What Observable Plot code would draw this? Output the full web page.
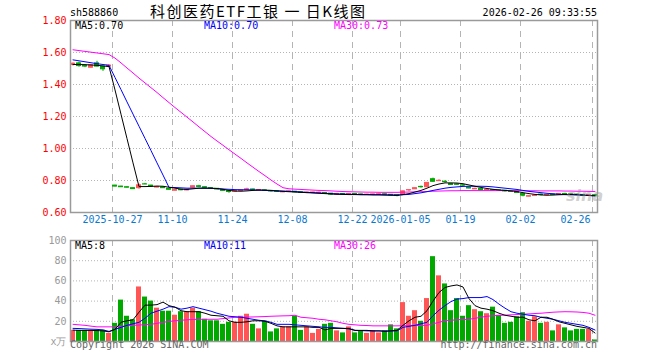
<!DOCTYPE html>
<html><head><meta charset="utf-8">
<script src="https://cdn.jsdelivr.net/npm/d3@7"></script>
<script src="https://cdn.jsdelivr.net/npm/@observablehq/plot@0.6"></script>
<style>
body{margin:0;background:#fff;}
#wrap{position:relative;width:660px;height:360px;overflow:hidden;font-family:"DejaVu Sans Mono",monospace;}
#wrap svg{position:absolute;left:0;}
.t{position:absolute;white-space:pre;font-size:10px;line-height:10px;font-family:"DejaVu Sans Mono",monospace;}
</style></head><body><div id="wrap"></div>
<script>
const code = "sh588860";
const title = "科创医药ETF工银 一 日K线图";
const stamp = "2026-02-26 09:33:55";
const copyright = "Copyright 2026 SINA.COM";
const url = "http://finance.sina.com.cn";

const dates = ["2025-10-16","2025-10-17","2025-10-20","2025-10-21","2025-10-22","2025-10-23","2025-10-24",
"2025-10-27","2025-10-28","2025-10-29","2025-10-30","2025-10-31",
"2025-11-03","2025-11-04","2025-11-05","2025-11-06","2025-11-07",
"2025-11-10","2025-11-11","2025-11-12","2025-11-13","2025-11-14",
"2025-11-17","2025-11-18","2025-11-19","2025-11-20","2025-11-21",
"2025-11-24","2025-11-25","2025-11-26","2025-11-27","2025-11-28",
"2025-12-01","2025-12-02","2025-12-03","2025-12-04","2025-12-05",
"2025-12-08","2025-12-09","2025-12-10","2025-12-11","2025-12-12",
"2025-12-15","2025-12-16","2025-12-17","2025-12-18","2025-12-19",
"2025-12-22","2025-12-23","2025-12-24","2025-12-25","2025-12-26",
"2025-12-29","2025-12-30","2025-12-31",
"2026-01-05","2026-01-06","2026-01-07","2026-01-08","2026-01-09",
"2026-01-12","2026-01-13","2026-01-14","2026-01-15","2026-01-16",
"2026-01-19","2026-01-20","2026-01-21","2026-01-22","2026-01-23",
"2026-01-26","2026-01-27","2026-01-28","2026-01-29","2026-01-30",
"2026-02-02","2026-02-03","2026-02-04","2026-02-05","2026-02-06",
"2026-02-09","2026-02-10","2026-02-11","2026-02-12","2026-02-13",
"2026-02-24","2026-02-25","2026-02-26"];

const open = [1.522,1.532,1.518,1.505,1.532,1.512,1.512,
.768,.762,.758,.752,.752, .776,.768,.756,.756,.748, .736,.742,.738,.755,.764,
.758,.752,.748,.740,.733, .730,.734,.740,.744,.738, .738,.735,.732,.726,.728,
.730,.726,.722,.722,.722, .722,.718,.712,.716,.712, .716,.713,.709,.710,.711,
.714,.711,.708, .712,.738,.745,.760,.758, .808,.796,.792,.778,.776,
.770,.756,.745,.748,.738, .740,.738,.736,.732,.728, .716,.699,.703,.712,.708,
.712,.712,.716,.714,.712, .710,.705,.708];
const close = [1.530,1.515,1.512,1.520,1.512,1.495,1.518,
.762,.758,.755,.746,.770, .775,.762,.760,.752,.742, .740,.739,.742,.764,.760,
.754,.750,.744,.735,.728, .734,.738,.745,.741,.741, .735,.732,.729,.729,.731,
.726,.723,.724,.725,.724, .718,.712,.716,.714,.716, .712,.710,.712,.713,.714,
.711,.707,.703, .732,.740,.752,.758,.785, .792,.798,.790,.772,.773,
.768,.750,.748,.740,.742, .736,.735,.732,.729,.722, .705,.702,.706,.709,.711,
.710,.716,.714,.711,.709, .707,.708,.705];
const high = [1.535,1.540,1.520,1.525,1.545,1.515,1.525,
.770,.764,.760,.754,.778, .782,.770,.762,.757,.750, .742,.744,.744,.766,.770,
.760,.753,.750,.742,.735, .736,.740,.752,.746,.743, .740,.737,.734,.731,.733,
.732,.728,.727,.727,.728, .724,.719,.720,.718,.719, .718,.715,.714,.715,.716,
.715,.712,.709, .735,.742,.755,.765,.788, .815,.805,.798,.780,.778,
.774,.758,.752,.750,.744, .742,.740,.738,.734,.730, .718,.704,.708,.716,.713,
.714,.718,.720,.716,.714, .712,.710,.709];
const low = [1.515,1.508,1.505,1.502,1.510,1.482,1.508,
.760,.756,.753,.744,.745, .774,.760,.754,.750,.740, .734,.736,.736,.754,.758,
.752,.748,.742,.733,.720, .728,.732,.738,.738,.735, .733,.728,.726,.724,.726,
.724,.721,.718,.720,.720, .716,.708,.710,.712,.710, .709,.708,.707,.708,.709,
.709,.705,.698, .710,.730,.744,.752,.756, .790,.795,.784,.770,.770,
.762,.748,.744,.738,.736, .734,.733,.728,.726,.720, .698,.697,.702,.704,.706,
.708,.710,.710,.709,.707, .705,.704,.703];

const volume = [11,11,11,11,11,11,8,
18,41,25,21.5,54, 44,40,33,30,30, 26,29.5,29.5,33,29.5,
22,20.5,20.5,17,19, 19,25,27,17,12.5, 20,9.5,12.5,14.5,14.5,
25,11,14.5,8,12, 17,18,10.5,8.5,14.5, 8.5,10.5,8,10.5,8.5,
10.5,16.5,12.5, 38.5,25,30.5,20,42.5, 84,65,57,30.5,42.5,
25,35.5,31.5,29.5,27.5, 34,26,18,19,24.5, 28.5,20,24.5,18,19,
10.5,16.5,13.5,10.5,12, 12,12,1.5];

const ma5 = [1.525,1.525,1.524,1.522,1.520,1.516,1.512,
1.366,1.214,1.062,0.910,0.762, 0.762,0.763,0.765,0.764,0.758, 0.752,0.746,0.744,0.748,0.752,
0.752,0.752,0.750,0.745,0.738, 0.734,0.733,0.735,0.738,0.740, 0.740,0.738,0.735,0.732,0.730,
0.728,0.726,0.724,0.722,0.720, 0.718,0.716,0.714,0.713,0.712, 0.712,0.711,0.711,0.710,0.710,
0.709,0.708,0.707, 0.712,0.718,0.728,0.738,0.752, 0.768,0.778,0.785,0.785,0.784,
0.780,0.772,0.764,0.757,0.750, 0.745,0.741,0.738,0.735,0.731, 0.724,0.718,0.713,0.710,0.708,
0.709,0.711,0.712,0.712,0.711, 0.709,0.707,0.704];
const ma10 = [1.554,1.548,1.542,1.536,1.530,1.525,1.520,
1.444,1.368,1.291,1.215,1.139, 1.063,0.987,0.910,0.834,0.757, 0.756,0.754,0.752,0.752,0.752,
0.752,0.751,0.749,0.747,0.745, 0.743,0.742,0.742,0.741,0.740, 0.738,0.736,0.735,0.734,0.733,
0.731,0.728,0.726,0.724,0.722, 0.720,0.718,0.716,0.715,0.714, 0.713,0.712,0.712,0.711,0.711,
0.710,0.710,0.709, 0.711,0.713,0.718,0.723,0.730, 0.738,0.745,0.752,0.757,0.760,
0.763,0.764,0.764,0.764,0.763, 0.760,0.756,0.752,0.748,0.744, 0.738,0.732,0.728,0.724,0.720,
0.717,0.714,0.712,0.711,0.710, 0.708,0.706,0.704];
const ma30 = [1.617,1.612,1.607,1.602,1.597,1.592,1.587,
1.565,1.535,1.503,1.472,1.440, 1.410,1.380,1.350,1.318,1.287, 1.256,1.226,1.196,1.166,1.135,
1.105,1.075,1.047,1.020,0.992, 0.965,0.938,0.910,0.883,0.856, 0.830,0.803,0.778,0.755,0.748,
0.746,0.744,0.742,0.740,0.738, 0.737,0.735,0.733,0.731,0.730, 0.729,0.728,0.727,0.727,0.726,
0.726,0.726,0.726, 0.727,0.728,0.729,0.730,0.731, 0.733,0.734,0.735,0.736,0.736,
0.737,0.737,0.737,0.737,0.737, 0.737,0.737,0.737,0.737,0.737, 0.736,0.736,0.736,0.735,0.735,
0.735,0.735,0.734,0.734,0.733, 0.733,0.732,0.731];

const vma5 = [11.3,11,11,11,10.8,10.5,9.6,
12,19,20.5,21.5,29, 36,36,36.5,39,35.5, 34,30.5,29.5,29.5,29.5,
28,26,25.5,25,20.5, 19,19,19.5,20.5,20.5, 20,18,15.5,14.5,14.5,
14.5,14.5,14.5,14,14, 11.5,13,13,13,12.5, 11,11,11,10.5,10.5,
10,10.5,11, 16,20.5,24,25,30.5, 40,48.5,53.5,55,56,
54,42.5,35.5,33,32, 30.5,28,26,25,24, 24,21.5,20.5,24,24,
22,19.5,18,16.5,15, 14,13,8.4];
const vma10 = [13,12.8,12.5,12.2,12,11.5,10,
12,14,16,17.5,19, 23,28,30,32,34.5, 34,32,33,34.5,33,
31.5,30,28,26.5,25, 24.5,24,23,22,21, 20.5,19,17,17,17,
16.5,16,15.5,15,14.5, 14,14,13.5,13,13, 11,10.8,10.5,10.5,10.5,
10.5,10.5,10.5, 14,15,16,17.5,19, 25.5,31,35.5,39.5,42,
42.5,43.5,43.5,43.5,44.5, 41.5,37,33,29.5,28, 27,26,25.5,24,23,
22,20.5,19,18,17, 16,14,11.4];
const vma30 = [17,16.5,16,15.2,14.5,14.5,14.5,
14.5,15,15.5,16,16.3, 16.6,17,18,19,19.8, 20.5,21,21.5,21.8,22,
22,22,22,22.7,23.3, 24,24.1,24.2,24.3,24.5, 24.7,25,25.2,25.4,25.5,
26,24,23.5,23,22, 21.5,20.5,19.5,18,17, 16.5,16,15.8,15.5,15.5,
15.5,15.5,15.5, 15.6,15.7,15.8,15.9,16, 17.5,19,20.5,21,21.5,
21.8,22,23,24,25, 25.5,25.8,26.1,26.4,26.7, 27,27.3,27.7,28,28.5,
29,29.3,29.5,29.4,29.2, 28.8,28,26];

const tickDates = ["2025-10-27","2025-11-10","2025-11-24","2025-12-08","2025-12-22","2026-01-05","2026-01-19","2026-02-02","2026-02-26"];
const tickLabels = ["2025-10-27","11-10","11-24","12-08","12-22","2026-01-05","01-19","02-02","02-26"];
const priceTicks = [0.6,0.8,1.0,1.2,1.4,1.6,1.8];
const volTicks = [0,20,40,60,80,100];
const volTickLabels = ["x万","20","40","60","80","100"];

const RED = "#ff5555", GREEN = "#00a800", GRID = "#b4b4b4", FRAMEC = "#9a9a9a";
const MONO = "DejaVu Sans Mono, monospace";
const n = dates.length;
const slot = 5/6; // bar occupies 5 of 6 px per day

const rows = dates.map((d, i) => ({
  i, date: d, o: open[i], c: close[i], h: high[i], l: low[i], v: volume[i],
  up: close[i] >= open[i],
  lo: Math.min(open[i], close[i]), hi: Math.max(open[i], close[i]),
  m5: ma5[i], m10: ma10[i], m30: ma30[i], v5: vma5[i], v10: vma10[i], v30: vma30[i]
}));
const ticks = tickDates.map((d, k) => ({i: dates.indexOf(d), label: tickLabels[k]}));
const xDomain = [0, n - 1/6];

const price = Plot.plot({
  width: 660, height: 230,
  marginLeft: 70, marginRight: 63, marginTop: 20, marginBottom: 18,
  x: {domain: xDomain, axis: null},
  y: {domain: [0.6, 1.8], axis: null},
  style: {fontFamily: MONO, background: "transparent"},
  marks: [
    Plot.ruleY(priceTicks.slice(1, -1), {stroke: GRID, strokeDasharray: "1,2"}),
    Plot.ruleX(ticks, {x: "i", stroke: GRID, strokeDasharray: "6,5"}),
    Plot.ruleX(rows, {x: "i", dx: 2.5, y1: "l", y2: "h", stroke: d => d.up ? RED : GREEN}),
    Plot.rect(rows, {x1: "i", x2: d => d.i + slot, y1: "lo", y2: "hi", insetLeft: 0.5, insetRight: 0.5,
      fill: d => d.up ? RED : GREEN, stroke: d => d.up ? RED : GREEN, strokeWidth: 1}),
    Plot.line(rows, {x: "i", y: "m30", dx: 2.5, stroke: "#ff00ff", strokeWidth: 1}),
    Plot.line(rows, {x: "i", y: "m10", dx: 2.5, stroke: "#0000ff", strokeWidth: 1}),
    Plot.line(rows, {x: "i", y: "m5", dx: 2.5, stroke: "#000000", strokeWidth: 1}),
    Plot.frame({stroke: FRAMEC, strokeWidth: 1.5}),
    Plot.text(priceTicks, {y: d => d, text: d => d.toFixed(2), frameAnchor: "left", textAnchor: "end", dx: -4,
      fill: "#ff0000", fontSize: 10, fontFamily: MONO}),
    Plot.text(ticks.slice(0, -1), {x: "i", text: "label", frameAnchor: "bottom", dy: 10,
      fill: "#0a78d2", fontSize: 10, fontFamily: MONO}),
    Plot.text(ticks.slice(-1), {x: "i", text: "label", frameAnchor: "bottom", dy: 10, textAnchor: "end", dx: -2,
      fill: "#0a78d2", fontSize: 10, fontFamily: MONO})
  ]
});
price.style.top = "0px";

const vol = Plot.plot({
  width: 660, height: 130,
  marginLeft: 70, marginRight: 63, marginTop: 10, marginBottom: 19,
  x: {domain: xDomain, axis: null},
  y: {domain: [0, 100], axis: null},
  style: {fontFamily: MONO, background: "transparent"},
  marks: [
    Plot.ruleY(volTicks.slice(1, -1), {stroke: GRID, strokeDasharray: "1,2"}),
    Plot.ruleX(ticks, {x: "i", stroke: GRID, strokeDasharray: "6,5"}),
    Plot.rectY(rows, {x1: "i", x2: d => d.i + slot, y: "v", fill: d => d.up ? RED : GREEN}),
    Plot.line(rows, {x: "i", y: "v30", dx: 2.5, stroke: "#ff00ff", strokeWidth: 1}),
    Plot.line(rows, {x: "i", y: "v10", dx: 2.5, stroke: "#0000ff", strokeWidth: 1}),
    Plot.line(rows, {x: "i", y: "v5", dx: 2.5, stroke: "#000000", strokeWidth: 1}),
    Plot.frame({stroke: FRAMEC, strokeWidth: 1.5}),
    Plot.text(volTicks, {y: d => d, text: (d, k) => volTickLabels[k], frameAnchor: "left", textAnchor: "end", dx: -4,
      fill: "#999999", fontSize: 10, fontFamily: MONO})
  ]
});
vol.style.top = "230px";

const wrap = document.getElementById("wrap");
wrap.appendChild(price);
wrap.appendChild(vol);

function label(text, css) {
  const el = document.createElement("div");
  el.className = "t";
  el.textContent = text;
  Object.assign(el.style, css);
  wrap.appendChild(el);
  return el;
}
const last = n - 1;
label(code, {left: "70px", top: "8px", color: "#000"});
label(title, {left: "150px", top: "3px", fontSize: "15px", lineHeight: "15px", letterSpacing: "1.5px",
  fontFamily: "'Noto Sans CJK SC', sans-serif", color: "#000"});
label(stamp, {right: "63px", top: "8px", color: "#000"});
label("MA5:" + ma5[last].toFixed(2), {left: "75px", top: "21px", color: "#000"});
label("MA10:" + ma10[last].toFixed(2), {left: "204px", top: "21px", color: "#0000ff"});
label("MA30:" + ma30[last].toFixed(2), {left: "334px", top: "21px", color: "#ff00ff"});
label("MA5:" + Math.round(vma5[last]), {left: "75px", top: "241px", color: "#000"});
label("MA10:" + Math.round(vma10[last]), {left: "204px", top: "241px", color: "#0000ff"});
label("MA30:" + Math.round(vma30[last]), {left: "334px", top: "241px", color: "#ff00ff"});
label(copyright, {left: "70px", top: "340px", color: "#666"});
label(url, {right: "63px", top: "340px", color: "#666"});
label("sina", {left: "566px", top: "188px", fontSize: "16px", lineHeight: "16px", fontWeight: "bold", fontStyle: "italic",
  fontFamily: "'DejaVu Sans', sans-serif", color: "rgba(150,150,150,0.45)"});
</script></body></html>
